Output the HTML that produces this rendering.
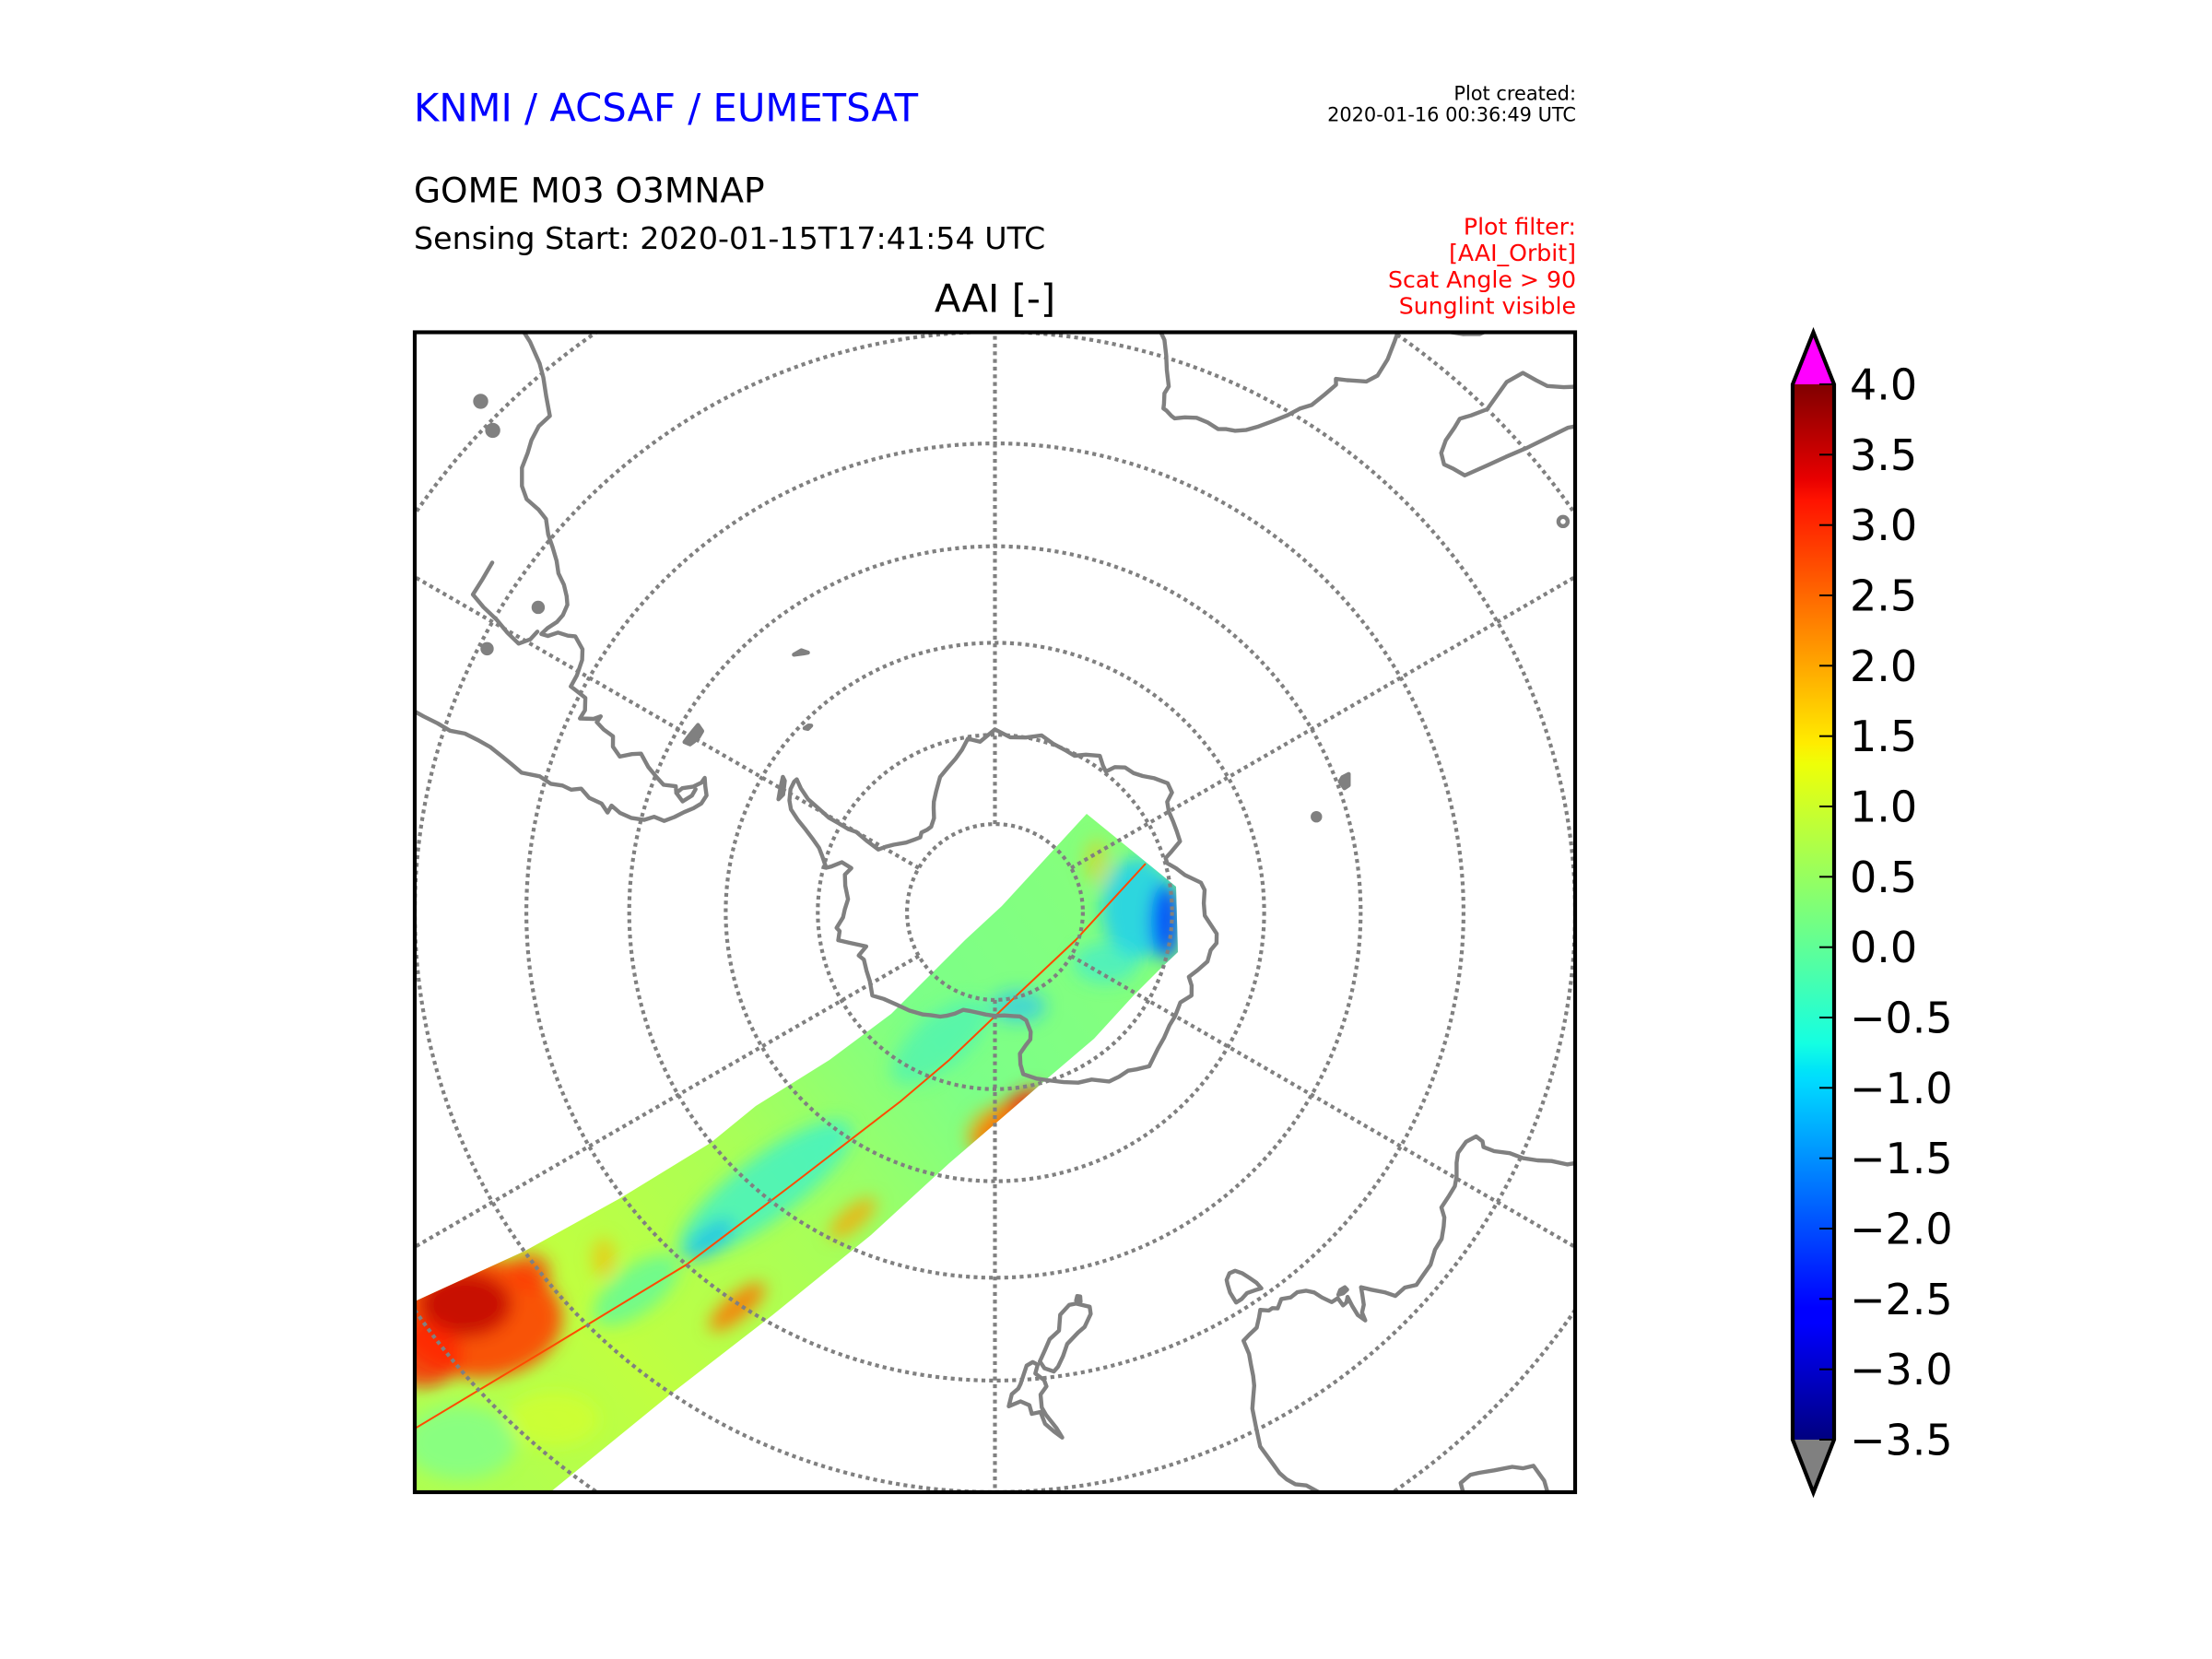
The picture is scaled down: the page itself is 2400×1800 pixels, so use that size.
<!DOCTYPE html>
<html><head><meta charset="utf-8">
<style>html,body{margin:0;padding:0;background:#fff;width:2400px;height:1800px;overflow:hidden;position:relative}svg{display:block;position:absolute;left:0;top:0}</style>
</head><body>
<svg id="s" width="2400" height="1800" viewBox="0 0 2400 1800" xmlns="http://www.w3.org/2000/svg" font-family="'DejaVu Sans','Liberation Sans',sans-serif">
<defs>
 <clipPath id="box"><rect x="450" y="360.5" width="1259" height="1258.5"/></clipPath>
 <clipPath id="sw"><path d="M1179,883 L1276,962 L1278,1033 L1257,1053 L1230,1080 L1187,1127 L1140,1167 L1102,1200 L1030,1262 L945,1340 L838,1427 L727,1513 L597,1619 L560,1640 L440,1640 L440,1425 L450,1412 L570,1357 L673,1300 L771,1240 L820,1200 L900,1150 L967,1100 L1010,1057 L1047,1020 L1087,983 L1133,933 Z"/></clipPath>
 <linearGradient id="swg" gradientUnits="userSpaceOnUse" x1="1240" y1="950" x2="480" y2="1520">
  <stop offset="0" stop-color="#86ff7a"/>
  <stop offset="0.3" stop-color="#7cff88"/>
  <stop offset="0.55" stop-color="#a8ff58"/>
  <stop offset="0.8" stop-color="#c0ff40"/>
  <stop offset="1" stop-color="#b0ff50"/>
 </linearGradient>
 <filter id="b10" x="-50%" y="-50%" width="200%" height="200%"><feGaussianBlur stdDeviation="9"/></filter>
 <linearGradient id="cb" x1="0" y1="0" x2="0" y2="1">
  <stop offset="0" stop-color="#800000"/>
  <stop offset="0.09" stop-color="#e80000"/>
  <stop offset="0.11" stop-color="#ff1300"/>
  <stop offset="0.34" stop-color="#ffec00"/>
  <stop offset="0.36" stop-color="#eeff08"/>
  <stop offset="0.5" stop-color="#7bff7b"/>
  <stop offset="0.625" stop-color="#14ffe2"/>
  <stop offset="0.65" stop-color="#00e4f8"/>
  <stop offset="0.66" stop-color="#00dbff"/>
  <stop offset="0.875" stop-color="#0000ff"/>
  <stop offset="0.89" stop-color="#0000ff"/>
  <stop offset="1" stop-color="#000080"/>
 </linearGradient>
</defs>

<!-- header texts -->
<text x="449" y="131.7" font-size="41.7" fill="#0000ff">KNMI / ACSAF / EUMETSAT</text>
<text x="1710" y="108.3" font-size="20.9" fill="#000" text-anchor="end">Plot created:</text>
<text x="1710" y="131.7" font-size="20.9" fill="#000" text-anchor="end">2020-01-16 00:36:49 UTC</text>
<text x="449" y="219.3" font-size="37.5" fill="#000">GOME M03 O3MNAP</text>
<text x="449" y="270" font-size="33.3" fill="#000">Sensing Start: 2020-01-15T17:41:54 UTC</text>
<text x="1710" y="254.5" font-size="25.2" fill="#ff0000" text-anchor="end">Plot filter:</text>
<text x="1710" y="283.2" font-size="25.2" fill="#ff0000" text-anchor="end">[AAI_Orbit]</text>
<text x="1710" y="311.9" font-size="25.2" fill="#ff0000" text-anchor="end">Scat Angle &gt; 90</text>
<text x="1710" y="340.6" font-size="25.2" fill="#ff0000" text-anchor="end">Sunglint visible</text>
<text x="1079.5" y="338.3" font-size="41.7" fill="#000" text-anchor="middle">AAI [-]</text>

<g clip-path="url(#box)">
 <!-- swath -->
 <g clip-path="url(#sw)">
  <rect x="440" y="870" width="850" height="760" fill="url(#swg)"/>
  <g filter="url(#b10)">
   <ellipse cx="1235" cy="985" rx="40" ry="55" fill="#10c8ff" opacity=".75"/>
   <ellipse cx="1265" cy="1000" rx="16" ry="42" fill="#0040ff" opacity=".85"/>
   <ellipse cx="1200" cy="1045" rx="35" ry="22" fill="#30e8e0" opacity=".6"/>
   <ellipse cx="1190" cy="935" rx="14" ry="25" fill="#ffc000" opacity=".45"/>
   <ellipse cx="1105" cy="1092" rx="30" ry="18" fill="#20c0ff" opacity=".6"/>
   <ellipse cx="1020" cy="1130" rx="65" ry="28" transform="rotate(-40 1020 1130)" fill="#40f0c0" opacity=".6"/>
   <ellipse cx="830" cy="1290" rx="115" ry="34" transform="rotate(-37 830 1290)" fill="#30f0d8" opacity=".7"/>
   <ellipse cx="770" cy="1345" rx="32" ry="14" transform="rotate(-37 770 1345)" fill="#10b0ff" opacity=".6"/>
   <ellipse cx="690" cy="1400" rx="55" ry="25" transform="rotate(-37 690 1400)" fill="#40f8b8" opacity=".6"/>
   <ellipse cx="520" cy="1430" rx="90" ry="65" fill="#ff4000" opacity=".9"/>
   <ellipse cx="505" cy="1415" rx="50" ry="35" fill="#c00000" opacity=".85"/>
   <ellipse cx="460" cy="1470" rx="40" ry="35" fill="#ff2000" opacity=".8"/>
   <ellipse cx="575" cy="1380" rx="22" ry="20" fill="#ff3000" opacity=".7"/>
   <ellipse cx="1093" cy="1213" rx="48" ry="14" transform="rotate(-42 1093 1213)" fill="#ff2800" opacity=".95"/>
   <ellipse cx="1075" cy="1225" rx="30" ry="22" transform="rotate(-42 1075 1225)" fill="#ffa000" opacity=".6"/>
   <ellipse cx="800" cy="1418" rx="38" ry="13" transform="rotate(-40 800 1418)" fill="#ff7000" opacity=".85"/>
   <ellipse cx="925" cy="1322" rx="32" ry="12" transform="rotate(-40 925 1322)" fill="#ffa000" opacity=".75"/>
   <ellipse cx="655" cy="1365" rx="12" ry="22" fill="#ffb000" opacity=".6"/>
   <ellipse cx="500" cy="1565" rx="60" ry="40" fill="#70ffa0" opacity=".6"/>
   <ellipse cx="600" cy="1540" rx="50" ry="30" fill="#e0ff20" opacity=".5"/>
  </g>
  <polyline points="1243,937 1167,1020 1100,1083 1030,1150 977,1195 860,1285 745,1372 600,1460 450,1550" fill="none" stroke="#ff4a00" stroke-width="2"/>
 </g>
 <!-- grid -->
 <g fill="none" stroke="#808080" stroke-width="4.17" stroke-dasharray="4.17 4.17">
  <circle cx="1079.5" cy="989.5" r="95.4"/>
  <circle cx="1079.5" cy="989.5" r="192.2"/>
  <circle cx="1079.5" cy="989.5" r="292.1"/>
  <circle cx="1079.5" cy="989.5" r="396.8"/>
  <circle cx="1079.5" cy="989.5" r="508.4"/>
  <circle cx="1079.5" cy="989.5" r="629.5"/>
  <circle cx="1079.5" cy="989.5" r="763.4"/>
  <line x1="1079.5" y1="894.1" x2="1079.5" y2="360.5"/>
  <line x1="1079.5" y1="1084.9" x2="1079.5" y2="1619"/>
  <line x1="1162.1" y1="941.8" x2="1709" y2="626"/>
  <line x1="1162.1" y1="1037.2" x2="1709" y2="1353"/>
  <line x1="996.9" y1="941.8" x2="450" y2="626"/>
  <line x1="996.9" y1="1037.2" x2="450" y2="1353"/>
 </g>
 <!-- coastlines (filled by script) -->
 <g id="coast" fill="none" stroke="#808080" stroke-width="4.4" stroke-linejoin="round" stroke-linecap="round"></g>
</g>
<rect x="450" y="360.5" width="1259" height="1258.5" fill="none" stroke="#000" stroke-width="4.17"/>

<!-- colorbar -->
<rect x="1945" y="417" width="45" height="1145" fill="url(#cb)"/>
<polygon points="1945,417 1967.5,360.5 1990,417" fill="#ff00ff"/>
<polygon points="1945,1562 1967.5,1619.5 1990,1562" fill="#808080"/>
<g stroke="#000" stroke-width="2">
 <line x1="1974" y1="417" x2="1990" y2="417"/>
 <line x1="1974" y1="493.3" x2="1990" y2="493.3"/>
 <line x1="1974" y1="569.7" x2="1990" y2="569.7"/>
 <line x1="1974" y1="646" x2="1990" y2="646"/>
 <line x1="1974" y1="722.3" x2="1990" y2="722.3"/>
 <line x1="1974" y1="798.7" x2="1990" y2="798.7"/>
 <line x1="1974" y1="875" x2="1990" y2="875"/>
 <line x1="1974" y1="951.3" x2="1990" y2="951.3"/>
 <line x1="1974" y1="1027.7" x2="1990" y2="1027.7"/>
 <line x1="1974" y1="1104" x2="1990" y2="1104"/>
 <line x1="1974" y1="1180.3" x2="1990" y2="1180.3"/>
 <line x1="1974" y1="1256.7" x2="1990" y2="1256.7"/>
 <line x1="1974" y1="1333" x2="1990" y2="1333"/>
 <line x1="1974" y1="1409.3" x2="1990" y2="1409.3"/>
 <line x1="1974" y1="1485.7" x2="1990" y2="1485.7"/>
 <line x1="1974" y1="1562" x2="1990" y2="1562"/>
</g>
<path d="M1945,417 L1967.5,360.5 L1990,417 L1990,1562 L1967.5,1619.5 L1945,1562 Z" fill="none" stroke="#000" stroke-width="4.17" stroke-linejoin="miter"/>
<g font-size="46" fill="#000">
 <text x="2007" y="433.5">4.0</text>
 <text x="2007" y="509.8">3.5</text>
 <text x="2007" y="586.2">3.0</text>
 <text x="2007" y="662.5">2.5</text>
 <text x="2007" y="738.8">2.0</text>
 <text x="2007" y="815.2">1.5</text>
 <text x="2007" y="891.5">1.0</text>
 <text x="2007" y="967.8">0.5</text>
 <text x="2007" y="1044.2">0.0</text>
 <text x="2007" y="1120.5">−0.5</text>
 <text x="2007" y="1196.8">−1.0</text>
 <text x="2007" y="1273.2">−1.5</text>
 <text x="2007" y="1349.5">−2.0</text>
 <text x="2007" y="1425.8">−2.5</text>
 <text x="2007" y="1502.2">−3.0</text>
 <text x="2007" y="1578.5">−3.5</text>
</g>
</svg>
<script>
(function(){
var NS="http://www.w3.org/2000/svg",K=1090.3,CX=1079.5,CY=989.5;
function P(lo,la){var r=K*Math.tan((90+la)*Math.PI/360),a=lo*Math.PI/180;return [CX+r*Math.sin(a),CY-r*Math.cos(a)];}
function D(arr,close){var s="";for(var i=0;i<arr.length;i++){var p=P(arr[i][0],arr[i][1]);s+=(i?" L":"M")+p[0].toFixed(1)+","+p[1].toFixed(1);}return s+(close?" Z":"");}
var g=document.getElementById("coast");
function add(arr,close,fill){var e=document.createElementNS(NS,"path");e.setAttribute("d",D(arr,close));if(fill)e.setAttribute("fill","#808080");g.appendChild(e);}
function dot(lo,la,r,ring){var p=P(lo,la);var e=document.createElementNS(NS,"circle");e.setAttribute("cx",p[0]);e.setAttribute("cy",p[1]);e.setAttribute("r",r);if(!ring){e.setAttribute("fill","#808080");}g.appendChild(e);}
var ANT=[[0,-69.4],[5,-70.2],[10,-70.0],[14.8,-69.4],[19,-69.9],[23.9,-70.1],[27,-70.2],[30,-69.5],[33.9,-68.8],[36.5,-69.5],[38.3,-69.8],[39.6,-68.8],[42,-68.1],[45,-67.9],[47.4,-67.4],[50,-66.6],[53.3,-65.8],[56,-66.0],[57.4,-67.0],[60,-67.4],[63,-67.5],[66,-67.6],[69.1,-67.7],[71,-68.9],[72.5,-69.8],[74.2,-69.8],[76.4,-69.0],[79,-68.2],[81.9,-66.6],[84,-66.3],[87.6,-66.5],[91,-66.4],[95.6,-65.0],[98,-64.9],[100,-65.4],[103.1,-65.5],[106,-66.3],[108.5,-67.0],[110.5,-66.4],[113,-66.0],[116,-66.8],[120,-66.6],[123,-66.6],[126.7,-66.3],[130,-66.1],[135,-65.5],[138,-66.2],[140,-66.7],[143,-66.8],[146,-67.0],[150,-68.2],[154,-68.6],[158,-69.3],[162.6,-70.1],[166,-70.6],[170.1,-71.4],[170.5,-72.5],[170,-73.7],[167,-74.5],[164.5,-75],[163.4,-75.8],[163.9,-77.2],[166.6,-77.8],[170,-78.0],[175,-78.2],[180,-78.2],[-175,-78.3],[-170,-78.4],[-166.3,-78.4],[-162,-78.3],[-158.5,-77.6],[-155,-77.0],[-152.4,-76.6],[-148,-76.2],[-145,-75.8],[-139.1,-75.2],[-133.4,-74.7],[-128,-74.0],[-124.3,-73.2],[-119,-73.8],[-114.6,-74.0],[-110,-74.2],[-107.7,-73.8],[-105,-74.9],[-102,-73.2],[-100.2,-72.0],[-97,-72.3],[-95.7,-72.0],[-92,-72.8],[-89,-73.0],[-85,-73.3],[-80,-72.8],[-76,-72.5],[-73,-73.0],[-72,-71.8],[-74.5,-70.8],[-75.3,-70.3],[-72,-69.5],[-70,-68.9],[-68,-67.8],[-66.5,-66.8],[-65,-65.6],[-63.3,-64.4],[-61.5,-63.8],[-59,-63.3],[-57,-63.2],[-56.2,-63.3],[-57.5,-64.2],[-58.9,-65.5],[-59.5,-66.8],[-60.4,-68.5],[-60.4,-69.8],[-60.5,-71],[-60,-71.9],[-61,-73.5],[-61.8,-75],[-59,-75.6],[-56.4,-76.2],[-52,-77.2],[-48,-77.7],[-45,-78.0],[-42.7,-77.7],[-39.5,-77.9],[-36.8,-77.9],[-33,-77.3],[-30.5,-76.3],[-29,-75.7],[-26,-74.8],[-22.1,-73.5],[-18,-72.8],[-14.4,-72.1],[-11.5,-71.3],[-8.9,-70.2],[-5,-70.7],[-1.8,-69.9],[0,-69.4]];
add(ANT,true);
var SAM=[[-38.8,-12.5],[-39.1,-14.5],[-39,-16],[-39.2,-17.6],[-39.7,-19.3],[-40.2,-20.3],[-41,-21.5],[-41.9,-22.9],[-43.2,-22.9],[-44.5,-23.3],[-45.5,-23.8],[-46.8,-24.3],[-48,-25.3],[-48.6,-26.3],[-48.6,-27.6],[-48.8,-28.6],[-49.8,-29.6],[-50.5,-30.6],[-51.3,-31.6],[-52.2,-32.4],[-52.8,-33.4],[-53.6,-34.2],[-54.3,-34.7],[-55.5,-34.9],[-56.5,-34.8],[-57.6,-34.4],[-58.5,-34.2],[-58.3,-34.8],[-57.4,-35.4],[-57.1,-36.3],[-56.7,-36.9],[-57.5,-38.1],[-58.6,-38.6],[-60.5,-38.9],[-62,-38.9],[-62.2,-39.8],[-62.4,-40.6],[-63.8,-41.1],[-65,-41],[-64.3,-42.2],[-63.6,-42.7],[-64.5,-42.6],[-65,-43.5],[-65.3,-44.6],[-66.6,-45],[-67.5,-46],[-66.5,-47],[-65.9,-47.8],[-67.3,-49],[-68.3,-50.2],[-69,-51.1],[-68.5,-52.3],[-69.5,-52.6],[-68.4,-53],[-67.4,-54],[-66.2,-54.6],[-65.2,-54.7],[-66.5,-55.1],[-68,-55.6],[-69.7,-55.4],[-71,-54.8],[-72.2,-54],[-73.5,-53.2],[-74.6,-52.3],[-74.4,-51.2],[-75.3,-50.3],[-75.5,-49],[-75.2,-47.8],[-74.5,-46.8],[-75.6,-46.6],[-74.6,-45.8],[-74.3,-44.5],[-73.4,-43.5],[-73.9,-42.6],[-73.7,-41.7],[-73.9,-40.6],[-73.4,-39.4],[-73.6,-37.7],[-73,-36.6],[-72.5,-35.6],[-71.9,-34.3],[-71.6,-33],[-71.4,-31.8],[-71.6,-30.5],[-71.3,-29.3],[-71.1,-28],[-70.9,-27],[-70.6,-25.5],[-70.4,-24],[-70.2,-22.5],[-70.1,-21],[-70.3,-18.4],[-71.5,-17]];
add(SAM,false);
add([[-55.2,-27.3],[-57,-27.4],[-58.7,-27.4],[-59.2,-28.7],[-59.6,-30.2],[-60.2,-31.6],[-60.6,-32.9],[-59.6,-33.6],[-58.5,-33.8]],false);
add([[-69.5,-52.6],[-70.5,-53.5],[-69,-54.2],[-67.7,-54.3]],false);
add([[-61.3,-51.2],[-60,-51.3],[-59,-51.4],[-57.8,-51.5],[-58.3,-52.2],[-59.5,-52.2],[-60.5,-52],[-61.2,-51.8],[-61.3,-51.2]],true,true);
add([[-38,-54],[-36.5,-54.1],[-35.8,-54.7],[-36.5,-54.5],[-38,-54]],true,true);
add([[-62.5,-62.7],[-60,-62.3],[-57.5,-61.9],[-58,-62.3],[-61,-62.9],[-62.5,-62.7]],true,true);
add([[-46,-60.5],[-45,-60.6],[-44.6,-60.8],[-45.6,-60.8],[-46,-60.5]],true,true);
dot(-45.2,-18.4,6);dot(-46.2,-20.6,6);dot(-56.3,-32.7,5);dot(-62.6,-30.7,5);
var AFR=[[11.8,-17],[12.5,-19],[13.4,-20.9],[14.4,-22.3],[14.5,-24],[15.1,-26.6],[15.7,-27.8],[16.5,-28.6],[17.1,-29.8],[17.6,-31],[18.3,-32.3],[18.1,-33],[18.4,-33.9],[18.5,-34.3],[18.9,-34.4],[19.6,-34.7],[20.0,-34.8],[21.0,-34.4],[22.2,-34.05],[23.5,-34.05],[24.8,-34.2],[25.6,-33.9],[26.5,-33.7],[27.5,-33.2],[28.5,-32.4],[29.5,-31.4],[30.5,-30.3],[31.2,-29.3],[32.0,-28.5],[32.5,-27.2],[32.9,-26],[32.6,-25.6],[33.5,-25.2],[35.0,-24.4],[35.5,-23.5],[35.4,-22],[35.0,-20.5],[34.7,-19.5],[36.2,-18.8],[37.5,-17.8],[39,-17],[40,-16.2],[40.6,-15],[40.5,-12.5]];
add(AFR,false);
var MAD=[[49.3,-12],[50.2,-14.5],[50.4,-15.5],[49.8,-16.5],[49.4,-18],[48.9,-19.8],[48.3,-21.5],[47.8,-23],[47.1,-24.9],[46,-25.2],[45.1,-25.5],[44.2,-25],[43.7,-24],[43.5,-22.8],[43.3,-22],[43.8,-21.2],[44.4,-20],[44.2,-18.8],[44,-17.5],[44.4,-16.2],[45.5,-15.9],[46.4,-15.6],[47.3,-14.8],[48,-14],[48.8,-12.5],[49.3,-12]];
add(MAD,true);
dot(55.5,-21.1,5,true);
add([[68.7,-48.6],[70.3,-49],[70.5,-49.5],[69.3,-49.7],[68.8,-49.3],[68.7,-48.6]],true,true);
dot(73.5,-53.1,4);
var AUS=[[114,-21.8],[113.5,-23.5],[113.7,-24.5],[113.3,-25.5],[113.8,-26.2],[114.1,-27.5],[114.6,-28.6],[115,-29.8],[115.1,-31],[115.6,-32.3],[115.7,-33.3],[115.2,-33.6],[115,-34.3],[116,-34.9],[117.5,-35.1],[118.5,-34.8],[119.8,-34.2],[120.8,-33.9],[122,-33.9],[123.5,-33.9],[124.2,-33.2],[125,-32.8],[126.2,-32.3],[127.5,-32.2],[129,-31.7],[130.5,-31.6],[131.5,-31.5],[132.5,-32.1],[133.8,-32.2],[134.3,-33.1],[135.1,-34.1],[135.7,-34.9],[136.2,-34.3],[136.8,-33.6],[137.5,-33.2],[137.8,-32.5],[138,-33.3],[137.8,-34.2],[137.5,-35.1],[138,-34.8],[138.5,-34.8],[138.4,-35.6],[139.2,-35.7],[139.7,-36.6],[140,-37.4],[140.6,-38],[141.5,-38.4],[142.5,-38.4],[143.5,-38.8],[144.5,-38.3],[145,-38.6],[145.5,-38.6],[146.3,-39.1],[146.9,-38.6],[147.8,-37.9],[149,-37.7],[149.9,-37.5],[150.1,-36.2],[150.5,-35.3],[150.9,-34.3],[151.3,-33.5],[152,-32.6],[152.6,-31.8],[153.1,-30.3],[153.6,-28.6],[153.3,-27],[153.1,-25.9],[152.8,-25.2],[152.3,-24.5],[151.5,-24],[150.8,-23],[150.2,-22.3],[149.5,-22.2],[148.8,-20.8],[147.5,-19.4],[146.3,-19],[146,-17.5],[145.4,-16],[145.3,-14.8],[144.3,-14.2],[143.6,-13.5],[143.3,-12],[142.5,-10.7],[142,-11.5],[141.6,-12.8],[141.6,-14.5],[141.4,-16.2],[140.8,-17.5],[139.8,-17.5],[139.2,-17.2],[138.2,-16.6],[137,-15.9],[136.5,-15.3],[135.8,-14.9],[136,-13.6],[136.7,-12.3],[136.2,-11.9]];
add(AUS,false);
add([[137.0,-35.6],[137.6,-35.6],[138.1,-35.8],[137.6,-36.0],[137.0,-35.9],[137.0,-35.6]],true,true);
add([[144.7,-40.7],[145.5,-40.9],[146.5,-41.1],[147.5,-40.9],[148.3,-40.9],[148.3,-42],[148,-42.8],[147.8,-43.2],[147,-43.6],[146.2,-43.5],[145.6,-42.9],[145.2,-42.2],[144.8,-41.4],[144.7,-40.7]],true);
add([[172.7,-40.5],[173.8,-40.9],[174.3,-41.6],[173.5,-42.6],[172.7,-43.6],[171.3,-44.3],[170.8,-45.8],[169.3,-46.6],[168.3,-46.6],[166.5,-46],[166.6,-45.3],[167.8,-44.2],[168.8,-43.8],[170.5,-42.9],[171.3,-41.8],[172.1,-40.9],[172.7,-40.5]],true);
add([[167.6,-46.7],[168.2,-46.9],[167.9,-47.3],[167.5,-47.2],[167.6,-46.7]],true);
add([[172.7,-34.4],[173.5,-35],[174.4,-35.8],[174.8,-36.9],[175.8,-36.8],[176,-37.6],[177,-38],[178.4,-37.6],[178,-38.7],[177.2,-39.2],[176.9,-39.6],[176,-41.3],[175.2,-41.6],[174.6,-41.3],[175,-40.5],[174,-39.8],[173.8,-39.2],[174.6,-38.5],[174.6,-37.3],[174.2,-36.6],[173.2,-35.3],[172.7,-34.4]],true);
})();
</script>
</body></html>
